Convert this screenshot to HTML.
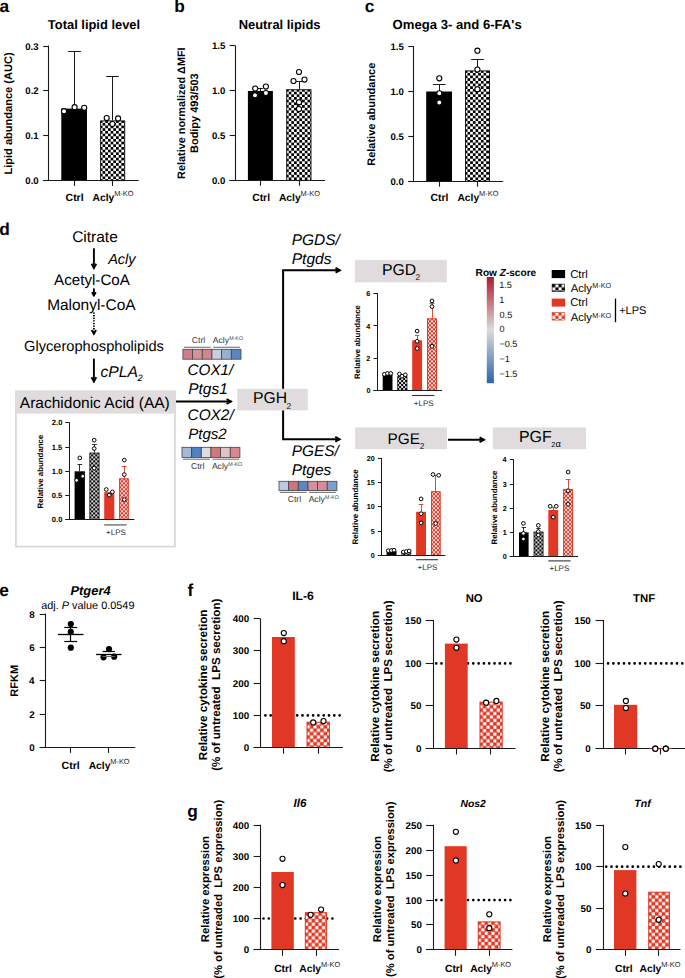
<!DOCTYPE html>
<html><head><meta charset="utf-8"><style>
html,body{margin:0;padding:0;background:#fff;}
svg{display:block;}
text{font-family:"Liberation Sans",sans-serif;white-space:pre;text-rendering:geometricPrecision;}
</style></head><body>
<svg width="685" height="978" viewBox="0 0 685 978">
<defs>
<pattern id="p0" patternUnits="userSpaceOnUse" x="99.9" y="120.2" width="5.36" height="5.36"><rect width="5.36" height="5.36" fill="#fff"/><rect width="2.68" height="2.68" fill="#000"/><rect x="2.68" y="2.68" width="2.68" height="2.68" fill="#000"/></pattern>
<pattern id="p1" patternUnits="userSpaceOnUse" x="286" y="89" width="5.36" height="5.36"><rect width="5.36" height="5.36" fill="#fff"/><rect width="2.68" height="2.68" fill="#000"/><rect x="2.68" y="2.68" width="2.68" height="2.68" fill="#000"/></pattern>
<pattern id="p2" patternUnits="userSpaceOnUse" x="464.8" y="70.2" width="5.36" height="5.36"><rect width="5.36" height="5.36" fill="#fff"/><rect width="2.68" height="2.68" fill="#000"/><rect x="2.68" y="2.68" width="2.68" height="2.68" fill="#000"/></pattern>
<pattern id="p3" patternUnits="userSpaceOnUse" x="89.2" y="452.4" width="4" height="4"><rect width="4" height="4" fill="#000"/><rect x="2.08" y="0.07" width="1.85" height="1.85" fill="#fff"/><rect x="0.07" y="2.08" width="1.85" height="1.85" fill="#fff"/></pattern>
<pattern id="p4" patternUnits="userSpaceOnUse" x="119.1" y="478.3" width="4" height="4"><rect width="4" height="4" fill="#e03824"/><rect x="2.1" y="0.1" width="1.8" height="1.8" fill="#fff"/><rect x="0.1" y="2.1" width="1.8" height="1.8" fill="#fff"/></pattern>
<pattern id="p5" patternUnits="userSpaceOnUse" x="397.1" y="376" width="4" height="4"><rect width="4" height="4" fill="#000"/><rect x="2.08" y="0.07" width="1.85" height="1.85" fill="#fff"/><rect x="0.07" y="2.08" width="1.85" height="1.85" fill="#fff"/></pattern>
<pattern id="p6" patternUnits="userSpaceOnUse" x="427" y="318.3" width="4" height="4"><rect width="4" height="4" fill="#e03824"/><rect x="2.1" y="0.1" width="1.8" height="1.8" fill="#fff"/><rect x="0.1" y="2.1" width="1.8" height="1.8" fill="#fff"/></pattern>
<pattern id="p7" patternUnits="userSpaceOnUse" x="401.3" y="551.8" width="4" height="4"><rect width="4" height="4" fill="#000"/><rect x="2.08" y="0.07" width="1.85" height="1.85" fill="#fff"/><rect x="0.07" y="2.08" width="1.85" height="1.85" fill="#fff"/></pattern>
<pattern id="p8" patternUnits="userSpaceOnUse" x="431" y="491.2" width="4" height="4"><rect width="4" height="4" fill="#e03824"/><rect x="2.1" y="0.1" width="1.8" height="1.8" fill="#fff"/><rect x="0.1" y="2.1" width="1.8" height="1.8" fill="#fff"/></pattern>
<pattern id="p9" patternUnits="userSpaceOnUse" x="533.4" y="531.4" width="4" height="4"><rect width="4" height="4" fill="#000"/><rect x="2.08" y="0.07" width="1.85" height="1.85" fill="#fff"/><rect x="0.07" y="2.08" width="1.85" height="1.85" fill="#fff"/></pattern>
<pattern id="p10" patternUnits="userSpaceOnUse" x="563.1" y="488.9" width="4" height="4"><rect width="4" height="4" fill="#e03824"/><rect x="2.1" y="0.1" width="1.8" height="1.8" fill="#fff"/><rect x="0.1" y="2.1" width="1.8" height="1.8" fill="#fff"/></pattern>
<pattern id="p11" patternUnits="userSpaceOnUse" x="306.5" y="721.7" width="6.84" height="6.84"><rect width="6.84" height="6.84" fill="#e03824"/><rect x="3.58" y="0.16" width="3.1" height="3.1" fill="#fff"/><rect x="0.16" y="3.58" width="3.1" height="3.1" fill="#fff"/></pattern>
<pattern id="p12" patternUnits="userSpaceOnUse" x="479.5" y="701.6" width="6.84" height="6.84"><rect width="6.84" height="6.84" fill="#e03824"/><rect x="3.58" y="0.16" width="3.1" height="3.1" fill="#fff"/><rect x="0.16" y="3.58" width="3.1" height="3.1" fill="#fff"/></pattern>
<pattern id="p13" patternUnits="userSpaceOnUse" x="304.8" y="912.2" width="6.84" height="6.84"><rect width="6.84" height="6.84" fill="#e03824"/><rect x="3.58" y="0.16" width="3.1" height="3.1" fill="#fff"/><rect x="0.16" y="3.58" width="3.1" height="3.1" fill="#fff"/></pattern>
<pattern id="p14" patternUnits="userSpaceOnUse" x="477.7" y="921.4" width="6.84" height="6.84"><rect width="6.84" height="6.84" fill="#e03824"/><rect x="3.58" y="0.16" width="3.1" height="3.1" fill="#fff"/><rect x="0.16" y="3.58" width="3.1" height="3.1" fill="#fff"/></pattern>
<pattern id="p15" patternUnits="userSpaceOnUse" x="648.2" y="891.7" width="6.84" height="6.84"><rect width="6.84" height="6.84" fill="#e03824"/><rect x="3.58" y="0.16" width="3.1" height="3.1" fill="#fff"/><rect x="0.16" y="3.58" width="3.1" height="3.1" fill="#fff"/></pattern>
<pattern id="ck" patternUnits="userSpaceOnUse" width="5.46" height="5.46"><rect width="5.46" height="5.46" fill="#fff"/><rect width="2.73" height="2.73" fill="#000"/><rect x="2.73" y="2.73" width="2.73" height="2.73" fill="#000"/></pattern>
<pattern id="cks" patternUnits="userSpaceOnUse" width="4" height="4"><rect width="4" height="4" fill="#fff"/><rect width="2" height="2" fill="#000"/><rect x="2" y="2" width="2" height="2" fill="#000"/></pattern>
<pattern id="rc" patternUnits="userSpaceOnUse" width="7.1" height="7.1"><rect width="7.1" height="7.1" fill="#fff"/><rect width="3.55" height="3.55" fill="#e03824"/><rect x="3.55" y="3.55" width="3.55" height="3.55" fill="#e03824"/></pattern>
<pattern id="rcs" patternUnits="userSpaceOnUse" width="4" height="4"><rect width="4" height="4" fill="#fff"/><rect width="2" height="2" fill="#e03824"/><rect x="2" y="2" width="2" height="2" fill="#e03824"/></pattern>
<pattern id="ckl" patternUnits="userSpaceOnUse" width="6.4" height="6.4" x="552.1" y="284.1"><rect width="6.4" height="6.4" fill="#fff"/><rect width="3.2" height="3.2" fill="#000"/><rect x="3.2" y="3.2" width="3.2" height="3.2" fill="#000"/></pattern>
<pattern id="rcl" patternUnits="userSpaceOnUse" width="6.4" height="6.4" x="552.1" y="312.5"><rect width="6.4" height="6.4" fill="#fff"/><rect width="3.2" height="3.2" fill="#e03824"/><rect x="3.2" y="3.2" width="3.2" height="3.2" fill="#e03824"/></pattern>
<linearGradient id="zs" x1="0" y1="0" x2="0" y2="1">
<stop offset="0" stop-color="#ae1a2c"/><stop offset="0.5" stop-color="#dddbdb"/><stop offset="1" stop-color="#2a65ad"/>
</linearGradient>
</defs>
<rect width="685" height="978" fill="#fff"/>
<text x="-0.48" y="12.3" font-size="17.3" font-weight="bold" font-style="normal" fill="#000" >a</text>
<text x="174.19" y="12.1" font-size="17.3" font-weight="bold" font-style="normal" fill="#000" >b</text>
<text x="364.64" y="12.3" font-size="17.3" font-weight="bold" font-style="normal" fill="#000" >c</text>
<text x="-0.69" y="235.3" font-size="17.3" font-weight="bold" font-style="normal" fill="#000" >d</text>
<text x="-0.66" y="596.3" font-size="17.3" font-weight="bold" font-style="normal" fill="#000" >e</text>
<text x="187.42" y="596" font-size="17.3" font-weight="bold" font-style="normal" fill="#000" >f</text>
<text x="187.21" y="816.5" font-size="17.3" font-weight="bold" font-style="normal" fill="#000" >g</text>
<text x="47.87" y="28.9" font-size="12.91" font-weight="bold" font-style="normal" fill="#000" >Total lipid level</text>
<line x1="48.5" y1="45.5" x2="48.5" y2="181.1" stroke="#1a1a1a" stroke-width="1.1" />
<line x1="43.2" y1="46.5" x2="48.5" y2="46.5" stroke="#1a1a1a" stroke-width="1.1" />
<line x1="43.2" y1="90.5" x2="48.5" y2="90.5" stroke="#1a1a1a" stroke-width="1.1" />
<line x1="43.2" y1="135.5" x2="48.5" y2="135.5" stroke="#1a1a1a" stroke-width="1.1" />
<line x1="43.2" y1="180.5" x2="48.5" y2="180.5" stroke="#1a1a1a" stroke-width="1.1" />
<text x="25.28" y="49.5" font-size="9.6" font-weight="bold" font-style="normal" fill="#000" >0.3</text>
<text x="25.32" y="94.4" font-size="9.6" font-weight="bold" font-style="normal" fill="#000" >0.2</text>
<text x="25.21" y="139.2" font-size="9.6" font-weight="bold" font-style="normal" fill="#000" >0.1</text>
<text x="25.34" y="184.1" font-size="9.6" font-weight="bold" font-style="normal" fill="#000" >0.0</text>
<rect x="61.3" y="108.6" width="25.7" height="72" fill="#000" stroke="none" stroke-width="0" />
<rect x="100.6" y="120.9" width="24.1" height="59.7" fill="url(#p0)" stroke="#1a1a1a" stroke-width="1.0" />
<line x1="74.5" y1="108.6" x2="74.5" y2="51" stroke="#1a1a1a" stroke-width="1.0" />
<line x1="68.2" y1="51.5" x2="80.8" y2="51.5" stroke="#1a1a1a" stroke-width="1.0" />
<line x1="112.5" y1="120.4" x2="112.5" y2="76.4" stroke="#1a1a1a" stroke-width="1.0" />
<line x1="106.2" y1="76.5" x2="118.8" y2="76.5" stroke="#1a1a1a" stroke-width="1.0" />
<line x1="43.2" y1="180.5" x2="138.7" y2="180.5" stroke="#1a1a1a" stroke-width="1.1" />
<line x1="74.5" y1="180.6" x2="74.5" y2="185.9" stroke="#1a1a1a" stroke-width="1.1" />
<line x1="112.5" y1="180.6" x2="112.5" y2="185.9" stroke="#1a1a1a" stroke-width="1.1" />
<circle cx="64" cy="111.2" r="2.55" fill="#fff" stroke="#000" stroke-width="1.1"/>
<circle cx="74.6" cy="107.2" r="2.55" fill="#fff" stroke="#000" stroke-width="1.1"/>
<circle cx="84.2" cy="107.8" r="2.55" fill="#fff" stroke="#000" stroke-width="1.1"/>
<circle cx="106.7" cy="118" r="2.55" fill="#fff" stroke="#000" stroke-width="1.1"/>
<circle cx="112.4" cy="124.1" r="2.55" fill="#fff" stroke="#000" stroke-width="1.1"/>
<circle cx="118.1" cy="118.4" r="2.55" fill="#fff" stroke="#000" stroke-width="1.1"/>
<text x="65.58" y="201.2" font-size="10.48" font-weight="bold" font-style="normal" fill="#000" >Ctrl</text>
<text x="92.55" y="201.2" font-size="10.3" font-weight="bold" font-style="normal" fill="#000" >Acly</text>
<text x="114.21" y="196.4" font-size="7.4" fill="#222">M-KO</text>
<text transform="translate(12.01,174.53) rotate(-90)" font-size="11.06" font-weight="bold" font-style="normal" fill="#000">Lipid abundance (AUC)</text>
<text x="238.65" y="28.5" font-size="12.93" font-weight="bold" font-style="normal" fill="#000" >Neutral lipids</text>
<line x1="235.5" y1="45.4" x2="235.5" y2="180.9" stroke="#1a1a1a" stroke-width="1.1" />
<line x1="229.6" y1="45.5" x2="235" y2="45.5" stroke="#1a1a1a" stroke-width="1.1" />
<line x1="229.6" y1="90.5" x2="235" y2="90.5" stroke="#1a1a1a" stroke-width="1.1" />
<line x1="229.6" y1="135.5" x2="235" y2="135.5" stroke="#1a1a1a" stroke-width="1.1" />
<line x1="229.6" y1="180.5" x2="235" y2="180.5" stroke="#1a1a1a" stroke-width="1.1" />
<text x="211.91" y="49.4" font-size="9.6" font-weight="bold" font-style="normal" fill="#000" >1.5</text>
<text x="212.04" y="94.3" font-size="9.6" font-weight="bold" font-style="normal" fill="#000" >1.0</text>
<text x="211.91" y="139" font-size="9.6" font-weight="bold" font-style="normal" fill="#000" >0.5</text>
<text x="212.04" y="183.9" font-size="9.6" font-weight="bold" font-style="normal" fill="#000" >0.0</text>
<rect x="247.9" y="91" width="25" height="89.4" fill="#000" stroke="none" stroke-width="0" />
<rect x="286.7" y="89.7" width="24.3" height="90.7" fill="url(#p1)" stroke="#1a1a1a" stroke-width="1.0" />
<line x1="260.5" y1="91" x2="260.5" y2="88.6" stroke="#1a1a1a" stroke-width="1.0" />
<line x1="257.9" y1="88.5" x2="262.9" y2="88.5" stroke="#1a1a1a" stroke-width="1.0" />
<line x1="299.5" y1="89.2" x2="299.5" y2="81.4" stroke="#1a1a1a" stroke-width="1.0" />
<line x1="296" y1="81.5" x2="302" y2="81.5" stroke="#1a1a1a" stroke-width="1.0" />
<line x1="229.6" y1="180.5" x2="325" y2="180.5" stroke="#1a1a1a" stroke-width="1.1" />
<line x1="260.5" y1="180.4" x2="260.5" y2="185.7" stroke="#1a1a1a" stroke-width="1.1" />
<line x1="299.5" y1="180.4" x2="299.5" y2="185.7" stroke="#1a1a1a" stroke-width="1.1" />
<circle cx="255.2" cy="88.6" r="2.55" fill="#fff" stroke="#000" stroke-width="1.1"/>
<circle cx="265.9" cy="86.6" r="2.55" fill="#fff" stroke="#000" stroke-width="1.1"/>
<circle cx="255" cy="95.3" r="2.55" fill="#fff" stroke="#000" stroke-width="1.1"/>
<circle cx="265.9" cy="93" r="2.55" fill="#fff" stroke="#000" stroke-width="1.1"/>
<circle cx="299" cy="72" r="2.55" fill="#fff" stroke="#000" stroke-width="1.1"/>
<circle cx="293.5" cy="81" r="2.55" fill="#fff" stroke="#000" stroke-width="1.1"/>
<circle cx="304.5" cy="79.6" r="2.55" fill="#fff" stroke="#000" stroke-width="1.1"/>
<circle cx="299" cy="102.3" r="2.55" fill="#fff" stroke="#000" stroke-width="1.1"/>
<circle cx="299" cy="109" r="2.55" fill="#fff" stroke="#000" stroke-width="1.1"/>
<text x="252.19" y="201" font-size="10.36" font-weight="bold" font-style="normal" fill="#000" >Ctrl</text>
<text x="278.95" y="201" font-size="10.3" font-weight="bold" font-style="normal" fill="#000" >Acly</text>
<text x="300.61" y="196.2" font-size="7.4" fill="#222">M-KO</text>
<text transform="translate(184.98,178.92) rotate(-90)" font-size="10.86" font-weight="bold" font-style="normal" fill="#000">Relative normalized ΔMFI</text>
<text transform="translate(198.22,152.92) rotate(-90)" font-size="10.93" font-weight="bold" font-style="normal" fill="#000">Bodipy 493/503</text>
<text x="392.58" y="29.3" font-size="13.12" font-weight="bold" font-style="normal" fill="#000" >Omega 3- and 6-FA's</text>
<line x1="413.5" y1="46.3" x2="413.5" y2="181.8" stroke="#1a1a1a" stroke-width="1.1" />
<line x1="408.3" y1="46.5" x2="413.8" y2="46.5" stroke="#1a1a1a" stroke-width="1.1" />
<line x1="408.3" y1="91.5" x2="413.8" y2="91.5" stroke="#1a1a1a" stroke-width="1.1" />
<line x1="408.3" y1="136.5" x2="413.8" y2="136.5" stroke="#1a1a1a" stroke-width="1.1" />
<line x1="408.3" y1="181.5" x2="413.8" y2="181.5" stroke="#1a1a1a" stroke-width="1.1" />
<text x="390.41" y="50.3" font-size="9.6" font-weight="bold" font-style="normal" fill="#000" >1.5</text>
<text x="390.54" y="95.1" font-size="9.6" font-weight="bold" font-style="normal" fill="#000" >1.0</text>
<text x="390.41" y="139.9" font-size="9.6" font-weight="bold" font-style="normal" fill="#000" >0.5</text>
<text x="390.54" y="184.8" font-size="9.6" font-weight="bold" font-style="normal" fill="#000" >0.0</text>
<rect x="426.2" y="91.5" width="25.8" height="89.8" fill="#000" stroke="none" stroke-width="0" />
<rect x="465.5" y="70.9" width="24" height="110.4" fill="url(#p2)" stroke="#1a1a1a" stroke-width="1.0" />
<line x1="439.5" y1="91.5" x2="439.5" y2="84.6" stroke="#1a1a1a" stroke-width="1.0" />
<line x1="433" y1="84.5" x2="445.6" y2="84.5" stroke="#1a1a1a" stroke-width="1.0" />
<line x1="477.5" y1="70.4" x2="477.5" y2="59.1" stroke="#1a1a1a" stroke-width="1.0" />
<line x1="471.2" y1="59.5" x2="483.8" y2="59.5" stroke="#1a1a1a" stroke-width="1.0" />
<line x1="408.3" y1="181.5" x2="503.2" y2="181.5" stroke="#1a1a1a" stroke-width="1.1" />
<line x1="439.5" y1="181.3" x2="439.5" y2="186.6" stroke="#1a1a1a" stroke-width="1.1" />
<line x1="477.5" y1="181.3" x2="477.5" y2="186.6" stroke="#1a1a1a" stroke-width="1.1" />
<circle cx="439.3" cy="78.3" r="2.55" fill="#fff" stroke="#000" stroke-width="1.1"/>
<circle cx="439.3" cy="93.3" r="2.55" fill="#fff" stroke="#000" stroke-width="1.1"/>
<circle cx="439.3" cy="102.5" r="2.55" fill="#fff" stroke="#000" stroke-width="1.1"/>
<circle cx="477.4" cy="50.7" r="2.55" fill="#fff" stroke="#000" stroke-width="1.1"/>
<circle cx="477.4" cy="69.6" r="2.55" fill="#fff" stroke="#000" stroke-width="1.1"/>
<circle cx="477.4" cy="89.3" r="2.55" fill="#fff" stroke="#000" stroke-width="1.1"/>
<text x="430.59" y="201" font-size="10.36" font-weight="bold" font-style="normal" fill="#000" >Ctrl</text>
<text x="457.45" y="201" font-size="10.3" font-weight="bold" font-style="normal" fill="#000" >Acly</text>
<text x="479.11" y="196.2" font-size="7.4" fill="#222">M-KO</text>
<text transform="translate(374.62,165.72) rotate(-90)" font-size="10.98" font-weight="bold" font-style="normal" fill="#000">Relative abundance</text>
<text x="72.13" y="242.3" font-size="15.5" font-weight="normal" font-style="normal" fill="#000" >Citrate</text>
<line x1="93.9" y1="248.3" x2="93.9" y2="268.6" stroke="#000" stroke-width="1.9" />
<polyline points="91.55,263.72 93.9,268.1 96.26,263.72" fill="none" stroke="#000" stroke-width="1.9" stroke-linejoin="miter" stroke-miterlimit="10"/>
<text x="108.13" y="263.5" font-size="14.56" font-weight="normal" font-style="italic" fill="#000" >Acly</text>
<text x="54.07" y="285.2" font-size="15.17" font-weight="normal" font-style="normal" fill="#000" >Acetyl-CoA</text>
<line x1="93.9" y1="288.4" x2="93.9" y2="295.8" stroke="#000" stroke-width="1.9" />
<polyline points="91.95,292.31 93.9,295.49 95.86,292.31" fill="none" stroke="#000" stroke-width="1.9" stroke-linejoin="miter" stroke-miterlimit="10"/>
<text x="47.13" y="310.4" font-size="15.46" font-weight="normal" font-style="normal" fill="#000" >Malonyl-CoA</text>
<line x1="93.9" y1="312.5" x2="93.9" y2="334.2" stroke="#000" stroke-width="1.8" stroke-dasharray="1.3 1.3"/>
<polyline points="91.69,330.04 93.9,333.89 96.11,330.04" fill="none" stroke="#000" stroke-width="1.8" stroke-linejoin="miter" stroke-miterlimit="10"/>
<text x="24.07" y="350.5" font-size="14.63" font-weight="normal" font-style="normal" fill="#000" >Glycerophospholipids</text>
<line x1="93.9" y1="358.6" x2="93.9" y2="382.1" stroke="#000" stroke-width="1.9" />
<polyline points="91.55,377.22 93.9,381.6 96.26,377.22" fill="none" stroke="#000" stroke-width="1.9" stroke-linejoin="miter" stroke-miterlimit="10"/>
<text x="100.5" y="376.8" font-size="15.65" font-weight="normal" font-style="italic" fill="#000" >cPLA</text>
<text x="137.46" y="381.3" font-size="9.2" font-weight="normal" font-style="italic" fill="#000" >2</text>
<rect x="15.9" y="391.5" width="159" height="155.1" fill="#fff" stroke="#dbd7d8" stroke-width="1.8" />
<rect x="15" y="390.6" width="161" height="23" fill="#e0dcdd" stroke="none" stroke-width="0" />
<text x="19.87" y="407.6" font-size="15.5" font-weight="normal" font-style="normal" fill="#000" >Arachidonic Acid (AA)</text>
<line x1="176" y1="401.5" x2="231.4" y2="401.5" stroke="#000" stroke-width="2.0" />
<polyline points="226.55,403.9 230.85,401.5 226.55,399.1" fill="none" stroke="#000" stroke-width="2.0" stroke-linejoin="miter" stroke-miterlimit="10"/>
<rect x="237.3" y="388.8" width="70.5" height="21.6" fill="#e0dcdd" stroke="none" stroke-width="0" />
<text x="253.01" y="403.4" font-size="15.72" font-weight="normal" font-style="normal" fill="#000" >PGH</text>
<text x="286.38" y="409" font-size="8.4" font-weight="normal" font-style="normal" fill="#000" >2</text>
<polyline points="283.1,388.8 283.1,270.3 340,270.3" fill="none" stroke="#000" stroke-width="2" stroke-linejoin="miter"/>
<polyline points="335.55,272.7 339.85,270.3 335.55,267.9" fill="none" stroke="#000" stroke-width="2.0" stroke-linejoin="miter" stroke-miterlimit="10"/>
<polyline points="283.1,410.4 283.1,439.2 340,439.2" fill="none" stroke="#000" stroke-width="2" stroke-linejoin="miter"/>
<polyline points="335.25,441.6 339.55,439.2 335.25,436.8" fill="none" stroke="#000" stroke-width="2.0" stroke-linejoin="miter" stroke-miterlimit="10"/>
<text x="291.74" y="245.4" font-size="15.47" font-weight="normal" font-style="italic" fill="#000" >PGDS/</text>
<text x="291.73" y="263.6" font-size="15.59" font-weight="normal" font-style="italic" fill="#000" >Ptgds</text>
<text x="291.74" y="455.8" font-size="15.39" font-weight="normal" font-style="italic" fill="#000" >PGES/</text>
<text x="291.74" y="474.5" font-size="15.47" font-weight="normal" font-style="italic" fill="#000" >Ptges</text>
<text x="187.58" y="375.4" font-size="15.26" font-weight="normal" font-style="italic" fill="#000" >COX1/</text>
<text x="188.24" y="393.5" font-size="15.47" font-weight="normal" font-style="italic" fill="#000" >Ptgs1</text>
<text x="187.57" y="420.3" font-size="15.36" font-weight="normal" font-style="italic" fill="#000" >COX2/</text>
<text x="188.25" y="438.9" font-size="15.04" font-weight="normal" font-style="italic" fill="#000" >Ptgs2</text>
<rect x="182.9" y="349.3" width="9.68" height="9.9" fill="#d27c89" stroke="#444" stroke-width="0.8" />
<rect x="192.58" y="349.3" width="9.68" height="9.9" fill="#d4939c" stroke="#444" stroke-width="0.8" />
<rect x="202.27" y="349.3" width="9.68" height="9.9" fill="#d3848f" stroke="#444" stroke-width="0.8" />
<rect x="211.95" y="349.3" width="9.68" height="9.9" fill="#c6d0dc" stroke="#444" stroke-width="0.8" />
<rect x="221.63" y="349.3" width="9.68" height="9.9" fill="#95b0d2" stroke="#444" stroke-width="0.8" />
<rect x="231.32" y="349.3" width="9.68" height="9.9" fill="#5a86bf" stroke="#444" stroke-width="0.8" />
<line x1="183.9" y1="347.3" x2="210.75" y2="347.3" stroke="#808080" stroke-width="1.2" />
<line x1="213.15" y1="347.3" x2="240" y2="347.3" stroke="#808080" stroke-width="1.2" />
<text x="191.8" y="342.6" font-size="8.6" font-weight="normal" font-style="normal" fill="#333" >Ctrl</text>
<text x="212.73" y="342.6" font-size="8.6" font-weight="normal" font-style="normal" fill="#333" >Acly</text>
<text x="229.18" y="340.2" font-size="5.3" fill="#444">M-KO</text>
<rect x="182" y="447.3" width="9.65" height="10.1" fill="#a3bad8" stroke="#444" stroke-width="0.8" />
<rect x="191.65" y="447.3" width="9.65" height="10.1" fill="#4f80c0" stroke="#444" stroke-width="0.8" />
<rect x="201.3" y="447.3" width="9.65" height="10.1" fill="#e0dcdc" stroke="#444" stroke-width="0.8" />
<rect x="210.95" y="447.3" width="9.65" height="10.1" fill="#d07880" stroke="#444" stroke-width="0.8" />
<rect x="220.6" y="447.3" width="9.65" height="10.1" fill="#dec4c8" stroke="#444" stroke-width="0.8" />
<rect x="230.25" y="447.3" width="9.65" height="10.1" fill="#d68890" stroke="#444" stroke-width="0.8" />
<line x1="183.1" y1="459.2" x2="209.9" y2="459.2" stroke="#808080" stroke-width="1.2" />
<line x1="212.3" y1="459.2" x2="239.1" y2="459.2" stroke="#808080" stroke-width="1.2" />
<text x="190.98" y="468.5" font-size="8.6" font-weight="normal" font-style="normal" fill="#333" >Ctrl</text>
<text x="211.88" y="468.5" font-size="8.6" font-weight="normal" font-style="normal" fill="#333" >Acly</text>
<text x="228.33" y="466.1" font-size="5.3" fill="#444">M-KO</text>
<rect x="279" y="481.3" width="9.65" height="9.3" fill="#bccbdc" stroke="#444" stroke-width="0.8" />
<rect x="288.65" y="481.3" width="9.65" height="9.3" fill="#cc7480" stroke="#444" stroke-width="0.8" />
<rect x="298.3" y="481.3" width="9.65" height="9.3" fill="#5a88c0" stroke="#444" stroke-width="0.8" />
<rect x="307.95" y="481.3" width="9.65" height="9.3" fill="#d4909a" stroke="#444" stroke-width="0.8" />
<rect x="317.6" y="481.3" width="9.65" height="9.3" fill="#d48c96" stroke="#444" stroke-width="0.8" />
<rect x="327.25" y="481.3" width="9.65" height="9.3" fill="#7aa0cc" stroke="#444" stroke-width="0.8" />
<line x1="279.8" y1="492.4" x2="306.65" y2="492.4" stroke="#808080" stroke-width="1.2" />
<line x1="309.05" y1="492.4" x2="335.9" y2="492.4" stroke="#808080" stroke-width="1.2" />
<text x="287.7" y="501.6" font-size="8.6" font-weight="normal" font-style="normal" fill="#333" >Ctrl</text>
<text x="308.63" y="501.6" font-size="8.6" font-weight="normal" font-style="normal" fill="#333" >Acly</text>
<text x="325.08" y="499.2" font-size="5.3" fill="#444">M-KO</text>
<rect x="354.9" y="260.1" width="91.9" height="22.2" fill="#e0dcdd" stroke="none" stroke-width="0" />
<text x="382" y="274.7" font-size="15.8" font-weight="normal" font-style="normal" fill="#000" >PGD</text>
<text x="415.58" y="279.7" font-size="8.4" font-weight="normal" font-style="normal" fill="#000" >2</text>
<rect x="355.1" y="427.4" width="91.9" height="21.7" fill="#e0dcdd" stroke="none" stroke-width="0" />
<text x="387.44" y="443.9" font-size="15.39" font-weight="normal" font-style="normal" fill="#000" >PGE</text>
<text x="419.68" y="448.7" font-size="8.4" font-weight="normal" font-style="normal" fill="#000" >2</text>
<line x1="448" y1="439.8" x2="484.4" y2="439.8" stroke="#000" stroke-width="2.0" />
<polyline points="479.55,442.2 483.85,439.8 479.55,437.4" fill="none" stroke="#000" stroke-width="2.0" stroke-linejoin="miter" stroke-miterlimit="10"/>
<rect x="492.9" y="427.4" width="93.1" height="21.8" fill="#e0dcdd" stroke="none" stroke-width="0" />
<text x="518.89" y="441.9" font-size="15.98" font-weight="normal" font-style="normal" fill="#000" >PGF</text>
<text x="551.34" y="447.3" font-size="7.2" font-weight="normal" font-style="normal" fill="#000" >2</text>
<text x="555.61" y="447.3" font-size="9.3" font-weight="normal" font-style="normal" fill="#000" >α</text>
<line x1="69.5" y1="422.3" x2="69.5" y2="520" stroke="#1a1a1a" stroke-width="1.0" />
<line x1="65.3" y1="422.5" x2="69.3" y2="422.5" stroke="#1a1a1a" stroke-width="1.0" />
<line x1="65.3" y1="447.5" x2="69.3" y2="447.5" stroke="#1a1a1a" stroke-width="1.0" />
<line x1="65.3" y1="471.5" x2="69.3" y2="471.5" stroke="#1a1a1a" stroke-width="1.0" />
<line x1="65.3" y1="495.5" x2="69.3" y2="495.5" stroke="#1a1a1a" stroke-width="1.0" />
<line x1="65.3" y1="519.5" x2="69.3" y2="519.5" stroke="#1a1a1a" stroke-width="1.0" />
<text x="51.84" y="425.4" font-size="7.6" font-weight="bold" font-style="normal" fill="#000" >2.0</text>
<text x="51.73" y="449.9" font-size="7.6" font-weight="bold" font-style="normal" fill="#000" >1.5</text>
<text x="51.84" y="473.9" font-size="7.6" font-weight="bold" font-style="normal" fill="#000" >1.0</text>
<text x="51.73" y="498" font-size="7.6" font-weight="bold" font-style="normal" fill="#000" >0.5</text>
<text x="51.84" y="522.1" font-size="7.6" font-weight="bold" font-style="normal" fill="#000" >0.0</text>
<rect x="74.6" y="471.3" width="10.3" height="48.2" fill="#000" stroke="none" stroke-width="0" />
<rect x="89.8" y="453" width="9.3" height="66.5" fill="url(#p3)" stroke="#1a1a1a" stroke-width="0.8" />
<rect x="104.2" y="492.2" width="10.1" height="27.3" fill="#e03824" stroke="none" stroke-width="0" />
<rect x="119.6" y="478.8" width="8.7" height="40.7" fill="url(#p4)" stroke="#e03824" stroke-width="1.0" />
<line x1="79.5" y1="471.3" x2="79.5" y2="464.6" stroke="#1a1a1a" stroke-width="0.9" />
<line x1="77.4" y1="464.5" x2="82.2" y2="464.5" stroke="#1a1a1a" stroke-width="0.9" />
<line x1="94.5" y1="452.6" x2="94.5" y2="444.5" stroke="#1a1a1a" stroke-width="0.9" />
<line x1="92" y1="444.5" x2="96.8" y2="444.5" stroke="#1a1a1a" stroke-width="0.9" />
<line x1="124.5" y1="478.3" x2="124.5" y2="466.2" stroke="#e03824" stroke-width="0.9" />
<line x1="121.6" y1="466.5" x2="126.4" y2="466.5" stroke="#e03824" stroke-width="0.9" />
<line x1="65.3" y1="519.5" x2="134.4" y2="519.5" stroke="#1a1a1a" stroke-width="1.0" />
<circle cx="79.8" cy="457.9" r="1.85" fill="#fff" stroke="#000" stroke-width="1.0"/>
<circle cx="76.6" cy="480.3" r="1.85" fill="#fff" stroke="#000" stroke-width="1.0"/>
<circle cx="82.7" cy="476.2" r="1.85" fill="#fff" stroke="#000" stroke-width="1.0"/>
<circle cx="94.2" cy="440.2" r="1.85" fill="#fff" stroke="#000" stroke-width="1.0"/>
<circle cx="94.2" cy="448.5" r="1.85" fill="#fff" stroke="#000" stroke-width="1.0"/>
<circle cx="94.2" cy="468.1" r="1.85" fill="#fff" stroke="#000" stroke-width="1.0"/>
<circle cx="106.3" cy="489.5" r="1.85" fill="#fff" stroke="#000" stroke-width="1.0"/>
<circle cx="109.2" cy="495.1" r="1.85" fill="#fff" stroke="#000" stroke-width="1.0"/>
<circle cx="112.4" cy="491.9" r="1.85" fill="#fff" stroke="#000" stroke-width="1.0"/>
<circle cx="124.3" cy="460.1" r="1.85" fill="#fff" stroke="#000" stroke-width="1.0"/>
<circle cx="124.3" cy="474.6" r="1.85" fill="#fff" stroke="#000" stroke-width="1.0"/>
<circle cx="124.3" cy="499.6" r="1.85" fill="#fff" stroke="#000" stroke-width="1.0"/>
<line x1="104.2" y1="524.9" x2="126.7" y2="524.9" stroke="#7a7a7a" stroke-width="1.5" />
<text x="106.09" y="534.9" font-size="8" font-weight="normal" font-style="normal" fill="#333" >+LPS</text>
<text transform="translate(43.21,508.52) rotate(-90)" font-size="7.87" font-weight="bold" font-style="normal" fill="#000">Relative abundance</text>
<line x1="377.5" y1="293.1" x2="377.5" y2="390.7" stroke="#1a1a1a" stroke-width="1.0" />
<line x1="373.5" y1="293.5" x2="377.2" y2="293.5" stroke="#1a1a1a" stroke-width="1.0" />
<line x1="373.5" y1="325.5" x2="377.2" y2="325.5" stroke="#1a1a1a" stroke-width="1.0" />
<line x1="373.5" y1="358.5" x2="377.2" y2="358.5" stroke="#1a1a1a" stroke-width="1.0" />
<line x1="373.5" y1="390.5" x2="377.2" y2="390.5" stroke="#1a1a1a" stroke-width="1.0" />
<text x="366.34" y="296.2" font-size="7.2" font-weight="bold" font-style="normal" fill="#000" >6</text>
<text x="366.13" y="328.5" font-size="7.2" font-weight="bold" font-style="normal" fill="#000" >4</text>
<text x="366.37" y="360.6" font-size="7.2" font-weight="bold" font-style="normal" fill="#000" >2</text>
<text x="366.38" y="392.8" font-size="7.2" font-weight="bold" font-style="normal" fill="#000" >0</text>
<rect x="382.7" y="374.8" width="9.8" height="15.4" fill="#000" stroke="none" stroke-width="0" />
<rect x="397.7" y="376.6" width="9.3" height="13.6" fill="url(#p5)" stroke="#1a1a1a" stroke-width="0.8" />
<rect x="412.2" y="340.3" width="9.9" height="49.9" fill="#e03824" stroke="none" stroke-width="0" />
<rect x="427.5" y="318.8" width="9" height="71.4" fill="url(#p6)" stroke="#e03824" stroke-width="1.0" />
<line x1="417.5" y1="340.3" x2="417.5" y2="335.4" stroke="#e03824" stroke-width="0.9" />
<line x1="414.9" y1="335.5" x2="419.3" y2="335.5" stroke="#e03824" stroke-width="0.9" />
<line x1="432.5" y1="318.3" x2="432.5" y2="303.4" stroke="#e03824" stroke-width="0.9" />
<line x1="429.5" y1="303.5" x2="434.5" y2="303.5" stroke="#e03824" stroke-width="0.9" />
<line x1="373.5" y1="390.5" x2="442.1" y2="390.5" stroke="#1a1a1a" stroke-width="1.0" />
<circle cx="384.3" cy="374.3" r="1.85" fill="#fff" stroke="#000" stroke-width="1.0"/>
<circle cx="387.4" cy="373.4" r="1.85" fill="#fff" stroke="#000" stroke-width="1.0"/>
<circle cx="390.8" cy="373.4" r="1.85" fill="#fff" stroke="#000" stroke-width="1.0"/>
<circle cx="399.4" cy="374" r="1.85" fill="#fff" stroke="#000" stroke-width="1.0"/>
<circle cx="402" cy="376.2" r="1.85" fill="#fff" stroke="#000" stroke-width="1.0"/>
<circle cx="405.3" cy="374.8" r="1.85" fill="#fff" stroke="#000" stroke-width="1.0"/>
<circle cx="417.1" cy="331.1" r="1.85" fill="#fff" stroke="#000" stroke-width="1.0"/>
<circle cx="417.1" cy="341.3" r="1.85" fill="#fff" stroke="#000" stroke-width="1.0"/>
<circle cx="417.1" cy="348.5" r="1.85" fill="#fff" stroke="#000" stroke-width="1.0"/>
<circle cx="432" cy="300.9" r="1.85" fill="#fff" stroke="#000" stroke-width="1.0"/>
<circle cx="432" cy="306.6" r="1.85" fill="#fff" stroke="#000" stroke-width="1.0"/>
<circle cx="432" cy="346.3" r="1.85" fill="#fff" stroke="#000" stroke-width="1.0"/>
<line x1="412.1" y1="395.5" x2="434.4" y2="395.5" stroke="#333" stroke-width="1.1" />
<text x="413.79" y="405.8" font-size="8" font-weight="normal" font-style="normal" fill="#333" >+LPS</text>
<text transform="translate(359.8,378.92) rotate(-90)" font-size="7.86" font-weight="bold" font-style="normal" fill="#000">Relative abundance</text>
<line x1="381.5" y1="457.9" x2="381.5" y2="555.7" stroke="#1a1a1a" stroke-width="1.0" />
<line x1="377.9" y1="458.5" x2="381.6" y2="458.5" stroke="#1a1a1a" stroke-width="1.0" />
<line x1="377.9" y1="482.5" x2="381.6" y2="482.5" stroke="#1a1a1a" stroke-width="1.0" />
<line x1="377.9" y1="506.5" x2="381.6" y2="506.5" stroke="#1a1a1a" stroke-width="1.0" />
<line x1="377.9" y1="531.5" x2="381.6" y2="531.5" stroke="#1a1a1a" stroke-width="1.0" />
<line x1="377.9" y1="555.5" x2="381.6" y2="555.5" stroke="#1a1a1a" stroke-width="1.0" />
<text x="366.78" y="461" font-size="7.2" font-weight="bold" font-style="normal" fill="#000" >20</text>
<text x="366.68" y="485.3" font-size="7.2" font-weight="bold" font-style="normal" fill="#000" >15</text>
<text x="366.78" y="509.4" font-size="7.2" font-weight="bold" font-style="normal" fill="#000" >10</text>
<text x="370.68" y="533.7" font-size="7.2" font-weight="bold" font-style="normal" fill="#000" >5</text>
<text x="370.78" y="557.8" font-size="7.2" font-weight="bold" font-style="normal" fill="#000" >0</text>
<rect x="386.6" y="551" width="9.9" height="4.2" fill="#000" stroke="none" stroke-width="0" />
<rect x="401.9" y="552.4" width="8.9" height="2.8" fill="url(#p7)" stroke="#1a1a1a" stroke-width="0.8" />
<rect x="416.1" y="511.8" width="9.9" height="43.4" fill="#e03824" stroke="none" stroke-width="0" />
<rect x="431.5" y="491.7" width="8.7" height="63.5" fill="url(#p8)" stroke="#e03824" stroke-width="1.0" />
<line x1="421.5" y1="511.8" x2="421.5" y2="504.3" stroke="#e03824" stroke-width="0.9" />
<line x1="418.6" y1="504.5" x2="423.4" y2="504.5" stroke="#e03824" stroke-width="0.9" />
<line x1="435.5" y1="491.2" x2="435.5" y2="475" stroke="#e03824" stroke-width="0.9" />
<line x1="433.4" y1="475.5" x2="438.2" y2="475.5" stroke="#e03824" stroke-width="0.9" />
<line x1="377.9" y1="555.5" x2="445.4" y2="555.5" stroke="#1a1a1a" stroke-width="1.0" />
<circle cx="388.3" cy="550.7" r="1.85" fill="#fff" stroke="#000" stroke-width="1.0"/>
<circle cx="391.3" cy="550.5" r="1.85" fill="#fff" stroke="#000" stroke-width="1.0"/>
<circle cx="394" cy="550.2" r="1.85" fill="#fff" stroke="#000" stroke-width="1.0"/>
<circle cx="403.3" cy="552" r="1.85" fill="#fff" stroke="#000" stroke-width="1.0"/>
<circle cx="406.3" cy="551.5" r="1.85" fill="#fff" stroke="#000" stroke-width="1.0"/>
<circle cx="409.2" cy="551" r="1.85" fill="#fff" stroke="#000" stroke-width="1.0"/>
<circle cx="421.1" cy="498.9" r="1.85" fill="#fff" stroke="#000" stroke-width="1.0"/>
<circle cx="421.1" cy="513.7" r="1.85" fill="#fff" stroke="#000" stroke-width="1.0"/>
<circle cx="421.1" cy="522.9" r="1.85" fill="#fff" stroke="#000" stroke-width="1.0"/>
<circle cx="433" cy="474.5" r="1.85" fill="#fff" stroke="#000" stroke-width="1.0"/>
<circle cx="438.7" cy="475.3" r="1.85" fill="#fff" stroke="#000" stroke-width="1.0"/>
<circle cx="435.7" cy="523.4" r="1.85" fill="#fff" stroke="#000" stroke-width="1.0"/>
<line x1="416.1" y1="559.7" x2="438" y2="559.7" stroke="#333" stroke-width="1.1" />
<text x="417.59" y="570.1" font-size="8" font-weight="normal" font-style="normal" fill="#333" >+LPS</text>
<text transform="translate(358.46,544.53) rotate(-90)" font-size="8.01" font-weight="bold" font-style="normal" fill="#000">Relative abundance</text>
<line x1="513.5" y1="459.1" x2="513.5" y2="556.9" stroke="#1a1a1a" stroke-width="1.0" />
<line x1="509.8" y1="459.5" x2="513" y2="459.5" stroke="#1a1a1a" stroke-width="1.0" />
<line x1="509.8" y1="484.5" x2="513" y2="484.5" stroke="#1a1a1a" stroke-width="1.0" />
<line x1="509.8" y1="508.5" x2="513" y2="508.5" stroke="#1a1a1a" stroke-width="1.0" />
<line x1="509.8" y1="532.5" x2="513" y2="532.5" stroke="#1a1a1a" stroke-width="1.0" />
<line x1="509.8" y1="556.5" x2="513" y2="556.5" stroke="#1a1a1a" stroke-width="1.0" />
<text x="502.53" y="462.2" font-size="7.2" font-weight="bold" font-style="normal" fill="#000" >4</text>
<text x="502.74" y="486.6" font-size="7.2" font-weight="bold" font-style="normal" fill="#000" >3</text>
<text x="502.77" y="510.6" font-size="7.2" font-weight="bold" font-style="normal" fill="#000" >2</text>
<text x="502.68" y="535" font-size="7.2" font-weight="bold" font-style="normal" fill="#000" >1</text>
<text x="502.78" y="559" font-size="7.2" font-weight="bold" font-style="normal" fill="#000" >0</text>
<rect x="519" y="532.4" width="9.6" height="24" fill="#000" stroke="none" stroke-width="0" />
<rect x="534" y="532" width="9.1" height="24.4" fill="url(#p9)" stroke="#1a1a1a" stroke-width="0.8" />
<rect x="548.3" y="510" width="9.9" height="46.4" fill="#e03824" stroke="none" stroke-width="0" />
<rect x="563.6" y="489.4" width="9" height="67" fill="url(#p10)" stroke="#e03824" stroke-width="1.0" />
<line x1="523.5" y1="532.4" x2="523.5" y2="527.9" stroke="#1a1a1a" stroke-width="0.9" />
<line x1="521.6" y1="527.5" x2="526" y2="527.5" stroke="#1a1a1a" stroke-width="0.9" />
<line x1="538.5" y1="531.6" x2="538.5" y2="528.6" stroke="#1a1a1a" stroke-width="0.9" />
<line x1="536.3" y1="528.5" x2="540.7" y2="528.5" stroke="#1a1a1a" stroke-width="0.9" />
<line x1="553.5" y1="510" x2="553.5" y2="507.5" stroke="#e03824" stroke-width="0.9" />
<line x1="551" y1="507.5" x2="555.4" y2="507.5" stroke="#e03824" stroke-width="0.9" />
<line x1="568.5" y1="488.9" x2="568.5" y2="479.5" stroke="#e03824" stroke-width="0.9" />
<line x1="565.7" y1="479.5" x2="570.5" y2="479.5" stroke="#e03824" stroke-width="0.9" />
<line x1="509.8" y1="556.5" x2="578" y2="556.5" stroke="#1a1a1a" stroke-width="1.0" />
<circle cx="523.4" cy="523.4" r="1.85" fill="#fff" stroke="#000" stroke-width="1.0"/>
<circle cx="523.4" cy="533.4" r="1.85" fill="#fff" stroke="#000" stroke-width="1.0"/>
<circle cx="523.4" cy="539" r="1.85" fill="#fff" stroke="#000" stroke-width="1.0"/>
<circle cx="538.3" cy="525.4" r="1.85" fill="#fff" stroke="#000" stroke-width="1.0"/>
<circle cx="538.3" cy="531.6" r="1.85" fill="#fff" stroke="#000" stroke-width="1.0"/>
<circle cx="538.3" cy="535" r="1.85" fill="#fff" stroke="#000" stroke-width="1.0"/>
<circle cx="550.2" cy="506.3" r="1.85" fill="#fff" stroke="#000" stroke-width="1.0"/>
<circle cx="556.2" cy="506.3" r="1.85" fill="#fff" stroke="#000" stroke-width="1.0"/>
<circle cx="553.2" cy="517.2" r="1.85" fill="#fff" stroke="#000" stroke-width="1.0"/>
<circle cx="568.1" cy="472" r="1.85" fill="#fff" stroke="#000" stroke-width="1.0"/>
<circle cx="568.1" cy="490.7" r="1.85" fill="#fff" stroke="#000" stroke-width="1.0"/>
<circle cx="568.1" cy="504.3" r="1.85" fill="#fff" stroke="#000" stroke-width="1.0"/>
<line x1="548.3" y1="560.9" x2="570.6" y2="560.9" stroke="#333" stroke-width="1.1" />
<text x="549.49" y="571.3" font-size="8" font-weight="normal" font-style="normal" fill="#333" >+LPS</text>
<text transform="translate(496.51,544.52) rotate(-90)" font-size="7.88" font-weight="bold" font-style="normal" fill="#000">Relative abundance</text>
<text x="475.6" y="275.7" font-size="10.1" font-weight="bold">Row <tspan font-style="italic">Z</tspan>-score</text>
<rect x="486.8" y="277" width="7.1" height="106.2" fill="url(#zs)" stroke="none" stroke-width="0" />
<text x="499.21" y="287.7" font-size="9.1" font-weight="normal" font-style="normal" fill="#111" >1.5</text>
<text x="499.21" y="302.63" font-size="9.1" font-weight="normal" font-style="normal" fill="#111" >1</text>
<text x="499.55" y="317.56" font-size="9.1" font-weight="normal" font-style="normal" fill="#111" >0.5</text>
<text x="499.55" y="332.49" font-size="9.1" font-weight="normal" font-style="normal" fill="#111" >0</text>
<text x="499.46" y="347.42" font-size="9.1" font-weight="normal" font-style="normal" fill="#111" >−0.5</text>
<text x="499.46" y="362.35" font-size="9.1" font-weight="normal" font-style="normal" fill="#111" >−1</text>
<text x="499.46" y="377.28" font-size="9.1" font-weight="normal" font-style="normal" fill="#111" >−1.5</text>
<rect x="551.7" y="270" width="13.4" height="8.1" fill="#000" stroke="none" stroke-width="0" />
<rect x="552.1" y="284.1" width="12.6" height="7.4" fill="url(#ckl)" stroke="#000" stroke-width="0.6" />
<rect x="551.7" y="298.6" width="13.4" height="8" fill="#e03824" stroke="none" stroke-width="0" />
<rect x="552.1" y="312.5" width="12.6" height="7.6" fill="url(#rcl)" stroke="#e03824" stroke-width="0.6" />
<text x="570.13" y="277.6" font-size="11.3" font-weight="normal" font-style="normal" fill="#000" >Ctrl</text>
<text x="570.13" y="306.2" font-size="11.3" font-weight="normal" font-style="normal" fill="#000" >Ctrl</text>
<text x="570.68" y="291.7" font-size="11.3" font-weight="normal" font-style="normal" fill="#000" >Acly</text>
<text x="592.32" y="288.3" font-size="7.2" fill="#222">M-KO</text>
<text x="570.68" y="321.4" font-size="11.3" font-weight="normal" font-style="normal" fill="#000" >Acly</text>
<text x="592.32" y="318" font-size="7.2" fill="#222">M-KO</text>
<line x1="615.5" y1="298.6" x2="615.5" y2="322.2" stroke="#000" stroke-width="1.3" />
<text x="619.17" y="314.2" font-size="11" font-weight="normal" font-style="normal" fill="#000" >+LPS</text>
<text x="70.49" y="595.4" font-size="12.89" font-weight="bold" font-style="italic" fill="#000" >Ptger4</text>
<text x="41.2" y="609.3" font-size="10.9">adj. <tspan font-style="italic">P</tspan> value 0.0549</text>
<line x1="45.5" y1="613.5" x2="45.5" y2="747.8" stroke="#1a1a1a" stroke-width="1.1" />
<line x1="39.7" y1="614.5" x2="45.2" y2="614.5" stroke="#1a1a1a" stroke-width="1.1" />
<line x1="39.7" y1="647.5" x2="45.2" y2="647.5" stroke="#1a1a1a" stroke-width="1.1" />
<line x1="39.7" y1="680.5" x2="45.2" y2="680.5" stroke="#1a1a1a" stroke-width="1.1" />
<line x1="39.7" y1="714.5" x2="45.2" y2="714.5" stroke="#1a1a1a" stroke-width="1.1" />
<line x1="39.7" y1="747.5" x2="45.2" y2="747.5" stroke="#1a1a1a" stroke-width="1.1" />
<text x="29.25" y="617.5" font-size="9.8" font-weight="bold" font-style="normal" fill="#000" >8</text>
<text x="29.28" y="651" font-size="9.8" font-weight="bold" font-style="normal" fill="#000" >6</text>
<text x="28.99" y="684.2" font-size="9.8" font-weight="bold" font-style="normal" fill="#000" >4</text>
<text x="29.32" y="717.6" font-size="9.8" font-weight="bold" font-style="normal" fill="#000" >2</text>
<text x="29.34" y="750.8" font-size="9.8" font-weight="bold" font-style="normal" fill="#000" >0</text>
<line x1="39.7" y1="747.5" x2="135.3" y2="747.5" stroke="#1a1a1a" stroke-width="1.1" />
<line x1="70.5" y1="747.3" x2="70.5" y2="752.9" stroke="#1a1a1a" stroke-width="1.1" />
<line x1="108.5" y1="747.3" x2="108.5" y2="752.9" stroke="#1a1a1a" stroke-width="1.1" />
<circle cx="70.8" cy="624.1" r="3.1" fill="#000" stroke="none" stroke-width="0"/>
<circle cx="70.8" cy="631.9" r="3.1" fill="#000" stroke="none" stroke-width="0"/>
<circle cx="70.8" cy="647.7" r="3.1" fill="#000" stroke="none" stroke-width="0"/>
<circle cx="109" cy="649.1" r="3.1" fill="#000" stroke="none" stroke-width="0"/>
<circle cx="103.5" cy="657.3" r="3.1" fill="#000" stroke="none" stroke-width="0"/>
<circle cx="114.2" cy="656.7" r="3.1" fill="#000" stroke="none" stroke-width="0"/>
<line x1="57.9" y1="634.5" x2="83.5" y2="634.5" stroke="#000" stroke-width="1.3" />
<line x1="64.3" y1="627.5" x2="77.1" y2="627.5" stroke="#000" stroke-width="1.2" />
<line x1="64.3" y1="641.5" x2="77.1" y2="641.5" stroke="#000" stroke-width="1.2" />
<line x1="70.5" y1="627.3" x2="70.5" y2="641.3" stroke="#000" stroke-width="1.2" />
<line x1="96.1" y1="654.5" x2="121.5" y2="654.5" stroke="#000" stroke-width="1.3" />
<line x1="102.6" y1="651.5" x2="114.8" y2="651.5" stroke="#000" stroke-width="1.2" />
<line x1="102.6" y1="656.5" x2="114.8" y2="656.5" stroke="#666" stroke-width="1.0" />
<text x="61.58" y="769" font-size="10.55" font-weight="bold" font-style="normal" fill="#000" >Ctrl</text>
<text x="88.65" y="769" font-size="10.3" font-weight="bold" font-style="normal" fill="#000" >Acly</text>
<text x="110.31" y="764.2" font-size="7.4" fill="#222">M-KO</text>
<text transform="translate(17.88,696.63) rotate(-90)" font-size="10.99" font-weight="bold" font-style="normal" fill="#000">RFKM</text>
<line x1="265.4" y1="715.4" x2="341" y2="715.4" stroke="#000" stroke-width="2.7" stroke-linecap="round" stroke-dasharray="0 5.3"/>
<rect x="272" y="637" width="22.8" height="110.4" fill="#e03824" stroke="none" stroke-width="0" />
<rect x="307" y="722.2" width="22.4" height="25.2" fill="url(#p11)" stroke="#e03824" stroke-width="1.0" />
<line x1="260.5" y1="618.4" x2="260.5" y2="747.9" stroke="#1a1a1a" stroke-width="1.1" />
<line x1="253.6" y1="618.5" x2="260.1" y2="618.5" stroke="#1a1a1a" stroke-width="1.1" />
<line x1="253.6" y1="650.5" x2="260.1" y2="650.5" stroke="#1a1a1a" stroke-width="1.1" />
<line x1="253.6" y1="683.5" x2="260.1" y2="683.5" stroke="#1a1a1a" stroke-width="1.1" />
<line x1="253.6" y1="715.5" x2="260.1" y2="715.5" stroke="#1a1a1a" stroke-width="1.1" />
<line x1="253.6" y1="747.5" x2="260.1" y2="747.5" stroke="#1a1a1a" stroke-width="1.1" />
<text x="232.85" y="622.4" font-size="9.8" font-weight="bold" font-style="normal" fill="#000" >400</text>
<text x="232.85" y="654.4" font-size="9.8" font-weight="bold" font-style="normal" fill="#000" >300</text>
<text x="232.85" y="686.5" font-size="9.8" font-weight="bold" font-style="normal" fill="#000" >200</text>
<text x="232.85" y="718.8" font-size="9.8" font-weight="bold" font-style="normal" fill="#000" >100</text>
<text x="243.74" y="750.9" font-size="9.8" font-weight="bold" font-style="normal" fill="#000" >0</text>
<line x1="253.6" y1="747.5" x2="342.9" y2="747.5" stroke="#1a1a1a" stroke-width="1.1" />
<line x1="283.5" y1="747.4" x2="283.5" y2="753.7" stroke="#1a1a1a" stroke-width="1.1" />
<line x1="318.5" y1="747.4" x2="318.5" y2="753.7" stroke="#1a1a1a" stroke-width="1.1" />
<circle cx="283.8" cy="633.1" r="2.55" fill="#fff" stroke="#000" stroke-width="1.1"/>
<circle cx="283.8" cy="641.2" r="2.55" fill="#fff" stroke="#000" stroke-width="1.1"/>
<circle cx="313.2" cy="722.4" r="2.55" fill="#fff" stroke="#000" stroke-width="1.1"/>
<circle cx="323.5" cy="721.1" r="2.55" fill="#fff" stroke="#000" stroke-width="1.1"/>
<text x="292.19" y="600.2" font-size="12.22" font-weight="bold" font-style="normal" fill="#000" >IL-6</text>
<text transform="translate(207.2,760.27) rotate(-90)" font-size="11.7" font-weight="bold" font-style="normal" fill="#000">Relative cytokine secretion</text>
<text transform="translate(220.2,770.86) rotate(-90)" font-size="11.62" font-weight="bold" font-style="normal" fill="#000">(% of untreated  LPS secretion)</text>
<line x1="436.2" y1="663.4" x2="513.7" y2="663.4" stroke="#000" stroke-width="2.7" stroke-linecap="round" stroke-dasharray="0 5.3"/>
<rect x="444.9" y="643.6" width="22.8" height="104.6" fill="#e03824" stroke="none" stroke-width="0" />
<rect x="480" y="702.1" width="22.2" height="46.1" fill="url(#p12)" stroke="#e03824" stroke-width="1.0" />
<line x1="433.5" y1="619.9" x2="433.5" y2="748.7" stroke="#1a1a1a" stroke-width="1.1" />
<line x1="425.7" y1="620.5" x2="433" y2="620.5" stroke="#1a1a1a" stroke-width="1.1" />
<line x1="425.7" y1="663.5" x2="433" y2="663.5" stroke="#1a1a1a" stroke-width="1.1" />
<line x1="425.7" y1="705.5" x2="433" y2="705.5" stroke="#1a1a1a" stroke-width="1.1" />
<line x1="425.7" y1="748.5" x2="433" y2="748.5" stroke="#1a1a1a" stroke-width="1.1" />
<text x="405.05" y="623.9" font-size="9.8" font-weight="bold" font-style="normal" fill="#000" >150</text>
<text x="405.05" y="666.7" font-size="9.8" font-weight="bold" font-style="normal" fill="#000" >100</text>
<text x="410.49" y="709.2" font-size="9.8" font-weight="bold" font-style="normal" fill="#000" >50</text>
<text x="415.94" y="751.7" font-size="9.8" font-weight="bold" font-style="normal" fill="#000" >0</text>
<line x1="425.7" y1="748.5" x2="515.5" y2="748.5" stroke="#1a1a1a" stroke-width="1.1" />
<line x1="456.5" y1="748.2" x2="456.5" y2="754.5" stroke="#1a1a1a" stroke-width="1.1" />
<line x1="490.5" y1="748.2" x2="490.5" y2="754.5" stroke="#1a1a1a" stroke-width="1.1" />
<circle cx="456.4" cy="639.6" r="2.55" fill="#fff" stroke="#000" stroke-width="1.1"/>
<circle cx="456.4" cy="647.8" r="2.55" fill="#fff" stroke="#000" stroke-width="1.1"/>
<circle cx="486.1" cy="702.7" r="2.55" fill="#fff" stroke="#000" stroke-width="1.1"/>
<circle cx="496.4" cy="700.9" r="2.55" fill="#fff" stroke="#000" stroke-width="1.1"/>
<text x="465.65" y="601.5" font-size="11.35" font-weight="bold" font-style="normal" fill="#000" >NO</text>
<text transform="translate(379,761.67) rotate(-90)" font-size="11.69" font-weight="bold" font-style="normal" fill="#000">Relative cytokine secretion</text>
<text transform="translate(392.2,772.36) rotate(-90)" font-size="11.6" font-weight="bold" font-style="normal" fill="#000">(% of untreated  LPS secretion)</text>
<line x1="608.1" y1="663.4" x2="686" y2="663.4" stroke="#000" stroke-width="2.7" stroke-linecap="round" stroke-dasharray="0 5.3"/>
<rect x="614" y="704.8" width="23.2" height="43.4" fill="#e03824" stroke="none" stroke-width="0" />
<line x1="603.5" y1="619.9" x2="603.5" y2="748.7" stroke="#1a1a1a" stroke-width="1.1" />
<line x1="595.6" y1="620.5" x2="603" y2="620.5" stroke="#1a1a1a" stroke-width="1.1" />
<line x1="595.6" y1="663.5" x2="603" y2="663.5" stroke="#1a1a1a" stroke-width="1.1" />
<line x1="595.6" y1="705.5" x2="603" y2="705.5" stroke="#1a1a1a" stroke-width="1.1" />
<line x1="595.6" y1="748.5" x2="603" y2="748.5" stroke="#1a1a1a" stroke-width="1.1" />
<text x="574.45" y="623.9" font-size="9.8" font-weight="bold" font-style="normal" fill="#000" >150</text>
<text x="574.45" y="666.7" font-size="9.8" font-weight="bold" font-style="normal" fill="#000" >100</text>
<text x="579.89" y="709.2" font-size="9.8" font-weight="bold" font-style="normal" fill="#000" >50</text>
<text x="585.34" y="751.7" font-size="9.8" font-weight="bold" font-style="normal" fill="#000" >0</text>
<line x1="595.6" y1="748.5" x2="685" y2="748.5" stroke="#1a1a1a" stroke-width="1.1" />
<line x1="625.5" y1="748.2" x2="625.5" y2="754.5" stroke="#1a1a1a" stroke-width="1.1" />
<line x1="660.5" y1="748.2" x2="660.5" y2="754.5" stroke="#1a1a1a" stroke-width="1.1" />
<circle cx="625.9" cy="700.9" r="2.55" fill="#fff" stroke="#000" stroke-width="1.1"/>
<circle cx="625.9" cy="708" r="2.55" fill="#fff" stroke="#000" stroke-width="1.1"/>
<circle cx="655.3" cy="748.7" r="2.55" fill="#fff" stroke="#000" stroke-width="1.1"/>
<circle cx="665.8" cy="748.7" r="2.55" fill="#fff" stroke="#000" stroke-width="1.1"/>
<text x="633.09" y="601.5" font-size="11.37" font-weight="bold" font-style="normal" fill="#000" >TNF</text>
<text transform="translate(549,761.67) rotate(-90)" font-size="11.69" font-weight="bold" font-style="normal" fill="#000">Relative cytokine secretion</text>
<text transform="translate(562.2,772.36) rotate(-90)" font-size="11.6" font-weight="bold" font-style="normal" fill="#000">(% of untreated  LPS secretion)</text>
<line x1="263.5" y1="918.5" x2="337.6" y2="918.5" stroke="#000" stroke-width="2.7" stroke-linecap="round" stroke-dasharray="0 5.3"/>
<rect x="271.4" y="872" width="22.4" height="77.5" fill="#e03824" stroke="none" stroke-width="0" />
<rect x="305.3" y="912.7" width="21.3" height="36.8" fill="url(#p13)" stroke="#e03824" stroke-width="1.0" />
<line x1="260.5" y1="824.7" x2="260.5" y2="950" stroke="#1a1a1a" stroke-width="1.1" />
<line x1="253.6" y1="825.5" x2="260.1" y2="825.5" stroke="#1a1a1a" stroke-width="1.1" />
<line x1="253.6" y1="856.5" x2="260.1" y2="856.5" stroke="#1a1a1a" stroke-width="1.1" />
<line x1="253.6" y1="887.5" x2="260.1" y2="887.5" stroke="#1a1a1a" stroke-width="1.1" />
<line x1="253.6" y1="918.5" x2="260.1" y2="918.5" stroke="#1a1a1a" stroke-width="1.1" />
<line x1="253.6" y1="949.5" x2="260.1" y2="949.5" stroke="#1a1a1a" stroke-width="1.1" />
<text x="232.85" y="828.7" font-size="9.8" font-weight="bold" font-style="normal" fill="#000" >400</text>
<text x="232.85" y="860" font-size="9.8" font-weight="bold" font-style="normal" fill="#000" >300</text>
<text x="232.85" y="890.7" font-size="9.8" font-weight="bold" font-style="normal" fill="#000" >200</text>
<text x="232.85" y="922" font-size="9.8" font-weight="bold" font-style="normal" fill="#000" >100</text>
<text x="243.74" y="953" font-size="9.8" font-weight="bold" font-style="normal" fill="#000" >0</text>
<line x1="253.6" y1="949.5" x2="339" y2="949.5" stroke="#1a1a1a" stroke-width="1.1" />
<line x1="282.5" y1="949.5" x2="282.5" y2="955.8" stroke="#1a1a1a" stroke-width="1.1" />
<line x1="316.5" y1="949.5" x2="316.5" y2="955.8" stroke="#1a1a1a" stroke-width="1.1" />
<circle cx="282.5" cy="858.8" r="2.55" fill="#fff" stroke="#000" stroke-width="1.1"/>
<circle cx="282.5" cy="885.1" r="2.55" fill="#fff" stroke="#000" stroke-width="1.1"/>
<circle cx="310.6" cy="914.8" r="2.55" fill="#fff" stroke="#000" stroke-width="1.1"/>
<circle cx="321.1" cy="909.5" r="2.55" fill="#fff" stroke="#000" stroke-width="1.1"/>
<text x="293.61" y="807.1" font-size="11.62" font-weight="bold" font-style="italic" fill="#000" >Il6</text>
<text transform="translate(209,942.15) rotate(-90)" font-size="11.31" font-weight="bold" font-style="normal" fill="#000">Relative expression</text>
<text transform="translate(221.9,978.74) rotate(-90)" font-size="11.22" font-weight="bold" font-style="normal" fill="#000">(% of untreaded  LPS expression)</text>
<text x="274.19" y="971.8" font-size="10.3" font-weight="bold" font-style="normal" fill="#000" >Ctrl</text>
<text x="299.25" y="971.8" font-size="10.3" font-weight="bold" font-style="normal" fill="#000" >Acly</text>
<text x="320.91" y="967" font-size="7.4" fill="#222">M-KO</text>
<line x1="436.2" y1="900.1" x2="511.1" y2="900.1" stroke="#000" stroke-width="2.7" stroke-linecap="round" stroke-dasharray="0 5.3"/>
<rect x="444.6" y="846.2" width="22.1" height="103.3" fill="#e03824" stroke="none" stroke-width="0" />
<rect x="478.2" y="921.9" width="21.9" height="27.6" fill="url(#p14)" stroke="#e03824" stroke-width="1.0" />
<line x1="433.5" y1="824.7" x2="433.5" y2="950" stroke="#1a1a1a" stroke-width="1.1" />
<line x1="426.2" y1="825.5" x2="433.6" y2="825.5" stroke="#1a1a1a" stroke-width="1.1" />
<line x1="426.2" y1="850.5" x2="433.6" y2="850.5" stroke="#1a1a1a" stroke-width="1.1" />
<line x1="426.2" y1="875.5" x2="433.6" y2="875.5" stroke="#1a1a1a" stroke-width="1.1" />
<line x1="426.2" y1="900.5" x2="433.6" y2="900.5" stroke="#1a1a1a" stroke-width="1.1" />
<line x1="426.2" y1="924.5" x2="433.6" y2="924.5" stroke="#1a1a1a" stroke-width="1.1" />
<line x1="426.2" y1="949.5" x2="433.6" y2="949.5" stroke="#1a1a1a" stroke-width="1.1" />
<text x="405.55" y="828.7" font-size="9.8" font-weight="bold" font-style="normal" fill="#000" >250</text>
<text x="405.55" y="853.9" font-size="9.8" font-weight="bold" font-style="normal" fill="#000" >200</text>
<text x="405.55" y="878.6" font-size="9.8" font-weight="bold" font-style="normal" fill="#000" >150</text>
<text x="405.55" y="903.6" font-size="9.8" font-weight="bold" font-style="normal" fill="#000" >100</text>
<text x="410.99" y="928" font-size="9.8" font-weight="bold" font-style="normal" fill="#000" >50</text>
<text x="416.44" y="953" font-size="9.8" font-weight="bold" font-style="normal" fill="#000" >0</text>
<line x1="426.2" y1="949.5" x2="512.4" y2="949.5" stroke="#1a1a1a" stroke-width="1.1" />
<line x1="455.5" y1="949.5" x2="455.5" y2="955.8" stroke="#1a1a1a" stroke-width="1.1" />
<line x1="489.5" y1="949.5" x2="489.5" y2="955.8" stroke="#1a1a1a" stroke-width="1.1" />
<circle cx="455.9" cy="831.8" r="2.55" fill="#fff" stroke="#000" stroke-width="1.1"/>
<circle cx="455.9" cy="860.4" r="2.55" fill="#fff" stroke="#000" stroke-width="1.1"/>
<circle cx="489.3" cy="914.3" r="2.55" fill="#fff" stroke="#000" stroke-width="1.1"/>
<circle cx="489.3" cy="928.2" r="2.55" fill="#fff" stroke="#000" stroke-width="1.1"/>
<text x="460.43" y="807.1" font-size="10.33" font-weight="bold" font-style="italic" fill="#000" >Nos2</text>
<text transform="translate(381.1,942.15) rotate(-90)" font-size="11.31" font-weight="bold" font-style="normal" fill="#000">Relative expression</text>
<text transform="translate(393.9,976.94) rotate(-90)" font-size="11.2" font-weight="bold" font-style="normal" fill="#000">(% of untreated  LPS expression)</text>
<text x="444.99" y="971.8" font-size="10.3" font-weight="bold" font-style="normal" fill="#000" >Ctrl</text>
<text x="470.15" y="971.8" font-size="10.3" font-weight="bold" font-style="normal" fill="#000" >Acly</text>
<text x="491.81" y="967" font-size="7.4" fill="#222">M-KO</text>
<line x1="606.2" y1="866.7" x2="680.5" y2="866.7" stroke="#000" stroke-width="2.7" stroke-linecap="round" stroke-dasharray="0 5.3"/>
<rect x="614" y="870.1" width="22.4" height="79.4" fill="#e03824" stroke="none" stroke-width="0" />
<rect x="648.7" y="892.2" width="20.8" height="57.3" fill="url(#p15)" stroke="#e03824" stroke-width="1.0" />
<line x1="603.5" y1="824.7" x2="603.5" y2="950" stroke="#1a1a1a" stroke-width="1.1" />
<line x1="596.2" y1="825.5" x2="603.5" y2="825.5" stroke="#1a1a1a" stroke-width="1.1" />
<line x1="596.2" y1="866.5" x2="603.5" y2="866.5" stroke="#1a1a1a" stroke-width="1.1" />
<line x1="596.2" y1="908.5" x2="603.5" y2="908.5" stroke="#1a1a1a" stroke-width="1.1" />
<line x1="596.2" y1="949.5" x2="603.5" y2="949.5" stroke="#1a1a1a" stroke-width="1.1" />
<text x="575.05" y="828.7" font-size="9.8" font-weight="bold" font-style="normal" fill="#000" >150</text>
<text x="575.05" y="870.2" font-size="9.8" font-weight="bold" font-style="normal" fill="#000" >100</text>
<text x="580.49" y="911.7" font-size="9.8" font-weight="bold" font-style="normal" fill="#000" >50</text>
<text x="585.94" y="953" font-size="9.8" font-weight="bold" font-style="normal" fill="#000" >0</text>
<line x1="596.2" y1="949.5" x2="680.5" y2="949.5" stroke="#1a1a1a" stroke-width="1.1" />
<line x1="625.5" y1="949.5" x2="625.5" y2="955.8" stroke="#1a1a1a" stroke-width="1.1" />
<line x1="658.5" y1="949.5" x2="658.5" y2="955.8" stroke="#1a1a1a" stroke-width="1.1" />
<circle cx="625.3" cy="847" r="2.55" fill="#fff" stroke="#000" stroke-width="1.1"/>
<circle cx="625.3" cy="893.5" r="2.55" fill="#fff" stroke="#000" stroke-width="1.1"/>
<circle cx="658.7" cy="864.1" r="2.55" fill="#fff" stroke="#000" stroke-width="1.1"/>
<circle cx="658.7" cy="919.8" r="2.55" fill="#fff" stroke="#000" stroke-width="1.1"/>
<text x="634.26" y="807.1" font-size="10.57" font-weight="bold" font-style="italic" fill="#000" >Tnf</text>
<text transform="translate(551.1,942.15) rotate(-90)" font-size="11.31" font-weight="bold" font-style="normal" fill="#000">Relative expression</text>
<text transform="translate(563.9,978.94) rotate(-90)" font-size="11.22" font-weight="bold" font-style="normal" fill="#000">(% of untreaded  LPS expression)</text>
<text x="614.99" y="971.8" font-size="10.3" font-weight="bold" font-style="normal" fill="#000" >Ctrl</text>
<text x="639.55" y="971.8" font-size="10.3" font-weight="bold" font-style="normal" fill="#000" >Acly</text>
<text x="661.21" y="967" font-size="7.4" fill="#222">M-KO</text>
<line x1="649" y1="748.5" x2="672" y2="748.5" stroke="#8b2b22" stroke-width="1.1" />
<circle cx="655.3" cy="748.7" r="2.55" fill="#fff" stroke="#000" stroke-width="1.1"/>
<circle cx="665.8" cy="748.7" r="2.55" fill="#fff" stroke="#000" stroke-width="1.1"/>
</svg>
</body></html>
